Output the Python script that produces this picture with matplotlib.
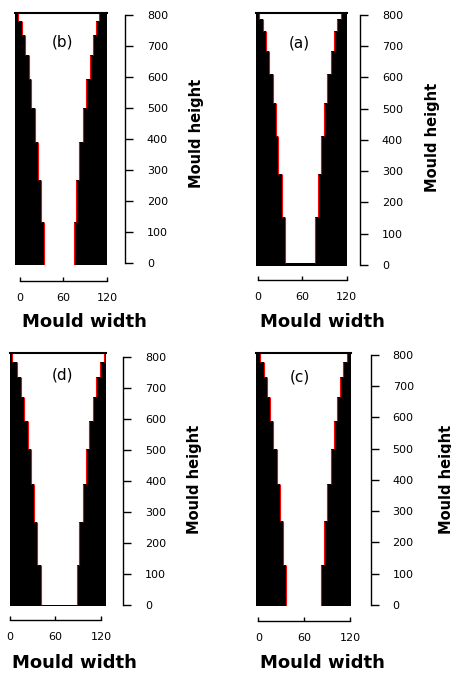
import matplotlib
matplotlib.use("Agg")
import matplotlib.pyplot as plt

# step profiles of the four moulds: step boundary heights (top -> bottom),
# left and right inner wall position of every step
tags = ["(b)", "(a)", "(d)", "(c)"]

h_b = [806, 781, 736, 670, 592, 499, 389, 267, 133, -6]
left_b = [-2.2, 3, 7.9, 13.1, 16.1, 21, 25.3, 29.3, 32.7]
right_b = [109, 104.8, 100.4, 96, 91.7, 87.3, 82, 77.7, 74.2]

h_a = [807, 786, 747, 683, 611, 519, 413, 291, 155, 7]
left_a = [1.3, 6.5, 10.9, 15.3, 19.7, 24, 27.5, 31.9, 35.8]
right_a = [112.7, 107, 102.6, 98.3, 93.9, 88.6, 85.2, 80.8, 76.4]

h_d = [811, 784, 736, 671, 593, 502, 390, 268, 129, 0]
left_d = [3, 8.8, 14, 19, 23.3, 27.7, 32, 36, 40.4]
right_d = [124, 118.7, 113.4, 109, 104.6, 100.2, 95.8, 91.4, 87.9]

h_c = [805, 779, 731, 667, 589, 498, 387, 269, 128, -3]
left_c = [2.2, 7.4, 11.8, 15.3, 18.8, 24, 28.4, 31.9, 35.8]
right_c = [115.7, 111.4, 107, 103.5, 99.6, 95.2, 90.4, 86, 82]

x_ticks = [0, 60, 120]
y_ticks = [0, 100, 200, 300, 400, 500, 600, 700, 800]

W, H = 451, 674
fig = plt.figure(figsize=(W / 100, H / 100), dpi=100)

# pixel layout of each panel: box (x0, x1, ytop, ybot), xlim, ylim,
# right spine position, bottom spine offset, label positions
panels = [
    dict(h=h_b, l=left_b, r=right_b, box=(15, 107, 13, 265), xlim=(-6.5, 113.5),
         ylim=(-6.5, 806.5), yspine=1.196, xoff=16, tag=(62, 42),
         xlab=(84, 322), ylab=(197, 133)),
    dict(h=h_a, l=left_a, r=right_a, box=(255.7, 346.7, 12.7, 265.7), xlim=(-3.4, 115.7),
         ylim=(-2.2, 807), yspine=1.146, xoff=14.3, tag=(299, 43),
         xlab=(322, 322), ylab=(433, 137)),
    dict(h=h_d, l=left_d, r=right_d, box=(10, 106, 353.3, 605.7), xlim=(0, 126.6),
         ylim=(-2.3, 811), yspine=1.18, xoff=14.3, tag=(62, 375),
         xlab=(74, 663), ylab=(194, 479)),
    dict(h=h_c, l=left_c, r=right_c, box=(255.7, 351, 353.3, 606), xlim=(-3.4, 121.3),
         ylim=(-3.2, 805.4), yspine=1.207, xoff=14.7, tag=(300, 377),
         xlab=(322, 663), ylab=(446, 479)),
]

px2pt = 72 / 100

for p, tag in zip(panels, tags):
    x0, x1, yt, yb = p["box"]
    ax = fig.add_axes([x0 / W, 1 - yb / H, (x1 - x0) / W, (yb - yt) / H])
    ax.set_facecolor("black")
    ax.set_xlim(p["xlim"])
    ax.set_ylim(p["ylim"])

    hs, ls, rs = p["h"], p["l"], p["r"]
    xs, ys = [], []
    for i in range(len(ls)):
        xs += [ls[i], ls[i]]
        ys += [hs[i], hs[i + 1]]
    for i in reversed(range(len(rs))):
        xs += [rs[i], rs[i]]
        ys += [hs[i + 1], hs[i]]
    ax.fill(xs, ys, color="white", lw=0)

    # red walls of the steps
    ax.vlines(ls, hs[1:], hs[:-1], color="red", lw=0.8)
    ax.vlines(rs, hs[1:], hs[:-1], color="red", lw=0.8)
    ax.axhline(hs[0], color="black", lw=1.5, clip_on=False)

    for s in ["left", "top"]:
        ax.spines[s].set_visible(False)
    ax.spines["right"].set_position(("axes", p["yspine"]))
    ax.spines["right"].set_bounds(0, 800)
    ax.spines["bottom"].set_position(("outward", p["xoff"] * px2pt))
    ax.spines["bottom"].set_bounds(0, 120)
    ax.spines["right"].set_linewidth(1.0)
    ax.spines["bottom"].set_linewidth(1.0)

    ax.yaxis.tick_right()
    ax.set_yticks(y_ticks)
    ax.set_xticks(x_ticks)
    ax.tick_params(axis="y", direction="out", length=8 * px2pt, width=1.0,
                   pad=10, labelsize=8)
    ax.tick_params(axis="x", direction="in", length=4 * px2pt, width=1.0,
                   pad=8.6, labelsize=8)

    fig.text(p["tag"][0] / W, 1 - p["tag"][1] / H, tag, ha="center", va="center",
             fontsize=11)
    fig.text(p["xlab"][0] / W, 1 - p["xlab"][1] / H, "Mould width", ha="center",
             va="center", fontsize=13, fontweight="bold")
    fig.text(p["ylab"][0] / W, 1 - p["ylab"][1] / H, "Mould height", ha="center",
             va="center", fontsize=10.5, fontweight="bold", rotation=90)

fig.savefig("out.png", dpi=100)
